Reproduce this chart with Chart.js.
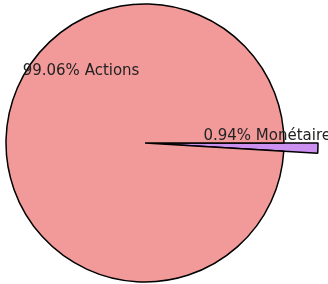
<!DOCTYPE html>
<html lang="fr">
<head>
<meta charset="utf-8">
<script src="https://cdn.jsdelivr.net/npm/chart.js@4.4.1/dist/chart.umd.min.js"></script>
<style>
    html, body { margin: 0; padding: 0; background: #fff; }
    #wrap { width: 328px; height: 284px; position: relative; }
</style>
</head>
<body>
<div id="wrap"><canvas id="pie-chart"></canvas></div>
<script>
// Répartition du portefeuille
const categories = ['Monétaire', 'Actions'];
const shares = [0.94, 99.06];
const sliceColors = ['#cc90f0', '#f29a9a'];
const pullOut = [34, 0];

// label placement relative to pie centre, in units of radius
const labelSpots = [
    { dx: 0.42, dy: -0.05 },
    { dx: -0.88, dy: -0.52 },
];

(function () {
    'use strict';

    const fmt = (v) => v.toFixed(2) + '%';

    // lengthen the small slice so it sticks out of the pie
    const pullSlices = {
        id: 'pullSlices',
        afterDatasetUpdate(chart, args) {
            args.meta.data.forEach((arc, i) => {
                if (pullOut[i]) arc.outerRadius += pullOut[i];
            });
        },
    };

    const sliceLabels = {
        id: 'sliceLabels',
        afterDatasetsDraw(chart) {
            const ctx = chart.ctx;
            const meta = chart.getDatasetMeta(0);
            const r = chart.options.radius;
            ctx.save();
            ctx.font = '15px "DejaVu Sans", sans-serif';
            ctx.fillStyle = '#222';
            ctx.textAlign = 'left';
            ctx.textBaseline = 'middle';
            meta.data.forEach((arc, i) => {
                const spot = labelSpots[i];
                ctx.fillText(fmt(shares[i]) + ' ' + categories[i], arc.x + spot.dx * r, arc.y + spot.dy * r);
            });
            ctx.restore();
        },
    };

    new Chart(document.getElementById('pie-chart'), {
        type: 'pie',
        data: {
            labels: categories,
            datasets: [{
                data: shares,
                backgroundColor: sliceColors,
                borderColor: '#000',
                borderWidth: 1.5,
            }],
        },
        options: {
            responsive: true,
            maintainAspectRatio: false,
            animation: false,
            rotation: 90,
            radius: 139,
            layout: { padding: { left: 0, right: 38, top: 2, bottom: 0 } },
            plugins: {
                legend: { display: false },
                tooltip: { enabled: false },
            },
        },
        plugins: [pullSlices, sliceLabels],
    });
})();
</script>
</body>
</html>
